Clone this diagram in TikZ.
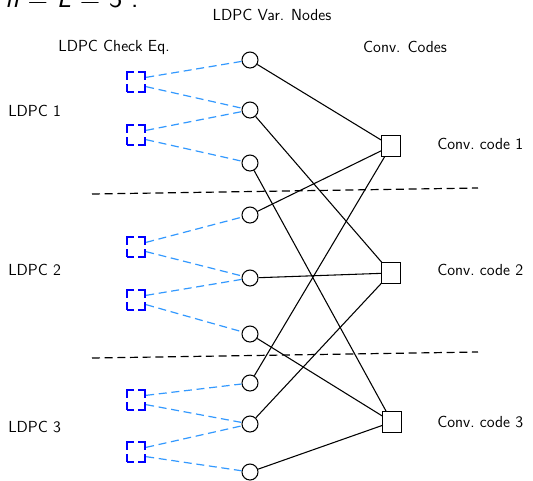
\documentclass[tikz,border=0pt]{standalone}
\usetikzlibrary{calc}
\definecolor{lblue}{RGB}{51,153,255}
\begin{document}
\begin{tikzpicture}[x=0.75pt,y=-0.75pt,
  every node/.style={font=\sffamily\fontsize{12}{14}\selectfont},
  var/.style={circle,draw,line width=0.8pt,minimum size=12pt,inner sep=0pt},
  chk/.style={rectangle,draw=blue,dash pattern=on 11.5pt off 3pt,dash phase=5.75pt,line width=1.3pt,minimum width=14pt,minimum height=15pt,inner sep=0pt},
  conv/.style={rectangle,draw,line width=0.8pt,minimum width=14pt,minimum height=15.5pt,inner sep=0pt},
  bl/.style={draw=lblue,line width=0.9pt,dash pattern=on 6pt off 3.5pt},
  kl/.style={draw,line width=0.8pt},
  sep/.style={draw,line width=0.9pt,dash pattern=on 6pt off 3.5pt},
  lbl/.style={anchor=west,inner sep=0pt}]
\useasboundingbox (0,0) rectangle (533,480);
% title (cropped at top edge, as in the reference)
\node[anchor=base west,inner sep=0pt,font=\sffamily\fontsize{21}{24}\selectfont] (title) at (5,7) {\textit{n} = \textit{L} = 3 :};
% headers
\node (hv) at (272,15) {LDPC Var. Nodes};
\node (hc) at (114,47) {LDPC Check Eq.};
\node (hk) at (405,47) {Conv. Codes};
% group labels
\node[lbl] (g1) at (8,111) {LDPC 1};
\node[lbl] (g2) at (8,270) {LDPC 2};
\node[lbl] (g3) at (8,427) {LDPC 3};
\node[lbl] (k1lab) at (437,144) {Conv.\ code 1};
\node[lbl] (k2lab) at (437,270) {Conv.\ code 2};
\node[lbl] (k3lab) at (437,422) {Conv.\ code 3};
% variable nodes
\foreach \i/\y in {1/60,2/110,3/163,4/215,5/278,6/334,7/383,8/424,9/472}
  \node[var] (v\i) at (250,\y) {};
% check nodes
\foreach \i/\y in {1/82,2/135,3/247,4/300,5/400,6/452}
  \node[chk] (c\i) at (136,\y) {};
% conv codes
\node[conv] (k1) at (391,146) {};
\node[conv] (k2) at (391,273) {};
\node[conv] (k3) at (392,422) {};
% separators
\coordinate (s1a) at (92,194);
\coordinate (s1b) at (478,188);
\coordinate (s2a) at (92,358);
\coordinate (s2b) at (478,352);
\draw[sep] (s1a) -- (s1b);
\draw[sep] (s2a) -- (s2b);
% blue dashed edges
\foreach \c/\a/\b in {1/1/2,2/2/3,3/4/5,4/5/6,5/7/8,6/8/9}{
  \draw[bl] ([yshift=3.5pt]c\c.east) -- (v\a);
  \draw[bl] ([yshift=-3.5pt]c\c.east) -- (v\b);
}
% black edges
\foreach \v/\k in {1/1,2/2,3/3,4/1,5/2,6/3,7/1,8/2,9/3}
  \draw[kl] (v\v) -- (k\k);
\end{tikzpicture}
\end{document}
